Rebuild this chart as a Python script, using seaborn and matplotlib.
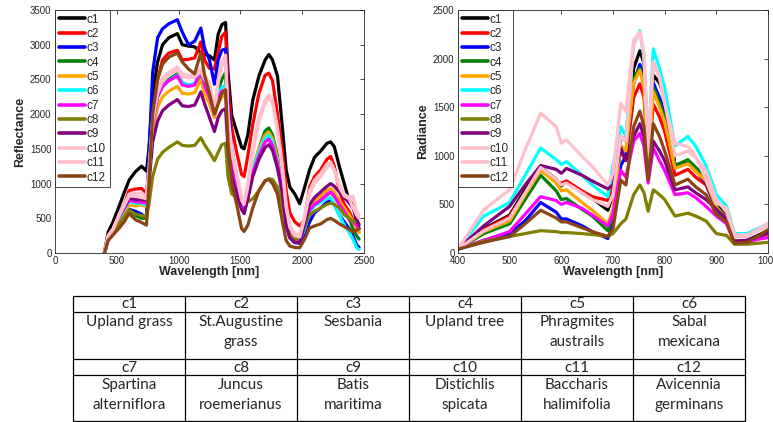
import numpy as np
import pandas as pd
import matplotlib
matplotlib.use('Agg')
import matplotlib.pyplot as plt
import seaborn as sns

classes = ['c1', 'c2', 'c3', 'c4', 'c5', 'c6', 'c7', 'c8', 'c9', 'c10', 'c11', 'c12']
colors = ['#000000', '#FF0000', '#0000FF', '#008000', '#FFA500', '#00FFFF',
          '#FF00FF', '#808000', '#800080', '#FFC0CB', '#FFC0CB', '#8B4513']

# left panel: reflectance
refl_wl = [400, 430, 470, 520, 560, 600, 650, 700, 740, 760, 790, 830, 870, 920, 990, 1030, 1080, 1130, 1180, 1210,
           1250, 1290, 1320, 1350, 1380, 1400, 1430, 1470, 1510, 1530, 1560, 1600, 1650, 1700, 1730, 1760, 1800, 1840,
           1870, 1900, 1940, 1980, 2020, 2060, 2100, 2150, 2200, 2230, 2260, 2300, 2340, 2380, 2410, 2440, 2460]
refl_c1 = [0, 300, 450, 680, 870, 1050, 1170, 1250, 1180, 1500, 2300, 2750, 3000, 3100, 3160, 3000, 2980, 2970, 2880, 2860,
           2840, 2780, 3150, 3290, 3320, 2600, 1980, 1750, 1520, 1500, 1700, 2200, 2550, 2780, 2860, 2780, 2550, 1800,
           1200, 950, 850, 710, 950, 1200, 1380, 1470, 1580, 1600, 1530, 1250, 1000, 750, 700, 450, 350]
refl_c2 = [0, 250, 350, 560, 700, 900, 920, 930, 860, 1200, 2000, 2500, 2780, 2880, 2920, 2780, 2790, 2810, 3040, 2780,
           2660, 2650, 2900, 3120, 3180, 2400, 1800, 1450, 1130, 1100, 1400, 1850, 2300, 2560, 2590, 2480, 2000, 1450,
           900, 580, 450, 390, 480, 950, 1100, 1200, 1350, 1390, 1250, 900, 700, 600, 480, 350, 300]
refl_c3 = [0, 200, 300, 430, 520, 630, 600, 560, 500, 1400, 2600, 3100, 3230, 3300, 3360, 3180, 3000, 3050, 3240, 2950,
           2780, 2430, 2780, 2920, 2940, 2200, 1500, 1100, 650, 570, 800, 1200, 1450, 1650, 1680, 1550, 1300, 900,
           400, 220, 150, 140, 250, 450, 580, 650, 730, 760, 700, 550, 450, 350, 250, 120, 80]
refl_c4 = [0, 200, 300, 420, 520, 620, 540, 500, 500, 1100, 1900, 2250, 2400, 2500, 2580, 2450, 2420, 2430, 2560, 2400,
           2250, 2000, 2350, 2500, 2600, 1800, 1300, 1000, 750, 680, 850, 1200, 1500, 1760, 1800, 1700, 1400, 1000,
           500, 280, 200, 190, 350, 600, 700, 760, 840, 870, 820, 700, 600, 500, 350, 250, 200]
refl_c5 = [0, 220, 320, 480, 580, 690, 680, 690, 670, 1050, 1750, 2100, 2250, 2330, 2400, 2300, 2290, 2310, 2500, 2300,
           2150, 1950, 2150, 2250, 2280, 1700, 1250, 980, 740, 700, 880, 1200, 1500, 1700, 1740, 1650, 1350, 950,
           450, 270, 200, 200, 420, 650, 750, 820, 900, 930, 880, 750, 650, 550, 450, 350, 300]
refl_c6 = [0, 230, 330, 500, 620, 740, 720, 710, 690, 1100, 1850, 2250, 2400, 2480, 2560, 2450, 2420, 2440, 2620, 2420,
           2280, 2020, 2280, 2380, 2420, 1750, 1300, 1000, 700, 640, 850, 1200, 1450, 1650, 1700, 1600, 1300, 900,
           450, 250, 170, 170, 350, 580, 680, 730, 780, 800, 700, 550, 400, 300, 200, 80, 50]
refl_c7 = [0, 230, 330, 520, 640, 760, 740, 730, 720, 1100, 1850, 2250, 2400, 2480, 2550, 2420, 2400, 2420, 2640, 2420,
           2250, 2000, 2250, 2330, 2350, 1700, 1250, 950, 650, 600, 800, 1150, 1400, 1600, 1640, 1550, 1280, 880,
           420, 230, 160, 160, 400, 620, 700, 760, 840, 880, 820, 700, 600, 480, 450, 400, 350]
refl_c8 = [0, 200, 300, 420, 520, 620, 560, 540, 520, 700, 1100, 1350, 1450, 1520, 1600, 1550, 1540, 1550, 1660, 1560,
           1450, 1330, 1450, 1560, 1580, 1100, 850, 800, 780, 760, 740, 780, 900, 1040, 1070, 1060, 950, 700,
           400, 250, 200, 200, 380, 550, 600, 650, 700, 720, 700, 650, 550, 500, 450, 450, 420]
refl_c9 = [0, 230, 340, 540, 660, 790, 770, 760, 760, 1000, 1600, 1900, 2050, 2130, 2210, 2120, 2110, 2130, 2320, 2150,
           1950, 1750, 1950, 2050, 2080, 1500, 1100, 850, 620, 580, 780, 1100, 1350, 1520, 1560, 1480, 1220, 850,
           400, 220, 150, 150, 420, 700, 800, 880, 960, 1000, 960, 880, 800, 720, 650, 500, 400]
refl_c10 = [0, 250, 350, 560, 700, 850, 860, 860, 820, 1200, 1950, 2350, 2520, 2600, 2680, 2580, 2560, 2570, 2660, 2560,
            2450, 2050, 2500, 2750, 2850, 2000, 1500, 1150, 800, 720, 1000, 1500, 1950, 2200, 2280, 2200, 1800, 1250,
            700, 400, 280, 250, 550, 900, 1050, 1150, 1280, 1310, 1200, 1000, 850, 800, 820, 600, 550]
refl_c11 = [0, 240, 340, 540, 680, 820, 820, 800, 780, 1150, 1900, 2300, 2480, 2560, 2640, 2540, 2520, 2530, 2620, 2500,
            2400, 2000, 2450, 2700, 2780, 1950, 1450, 1100, 760, 700, 950, 1450, 1900, 2150, 2240, 2150, 1750, 1200,
            650, 370, 250, 230, 500, 850, 1000, 1100, 1230, 1280, 1180, 950, 820, 780, 650, 550, 500]
refl_c12 = [0, 180, 260, 360, 450, 570, 480, 440, 400, 1000, 2000, 2500, 2720, 2820, 2880, 2750, 2650, 2580, 2890, 2560,
            2300, 2000, 2150, 2300, 2350, 1600, 1000, 700, 350, 310, 400, 650, 900, 1040, 1060, 1000, 850, 450,
            180, 100, 80, 75, 200, 360, 390, 420, 480, 500, 470, 420, 380, 340, 300, 330, 350]

# right panel: radiance
rad_wl = [400, 450, 500, 530, 560, 590, 600, 610, 640, 660, 690, 700, 715, 725, 740, 752, 760, 768, 778, 790, 800,
          820, 845, 860, 880, 900, 920, 935, 960, 980, 1000]
rad_c1 = [40, 250, 390, 650, 880, 760, 690, 740, 620, 560, 440, 600, 1200, 1150, 1900, 2080, 1950, 950, 1830, 1750, 1600,
          900, 950, 880, 780, 500, 380, 120, 130, 180, 230]
rad_c2 = [40, 240, 380, 620, 870, 730, 720, 740, 640, 580, 540, 700, 1050, 950, 1600, 1740, 1600, 900, 1530, 1400, 1250,
          800, 860, 780, 700, 450, 350, 110, 120, 150, 180]
rad_c3 = [40, 130, 200, 330, 520, 420, 350, 350, 280, 220, 150, 300, 900, 1000, 1750, 1940, 1800, 900, 1750, 1600, 1450,
          900, 930, 850, 720, 450, 340, 120, 120, 150, 180]
rad_c4 = [40, 200, 300, 550, 800, 640, 550, 560, 450, 380, 230, 400, 1100, 1050, 1800, 1900, 1750, 950, 1700, 1550, 1400,
          900, 960, 880, 780, 480, 360, 120, 120, 160, 190]
rad_c5 = [40, 220, 330, 600, 850, 720, 640, 650, 520, 440, 300, 450, 1100, 1050, 1750, 1880, 1700, 900, 1660, 1500, 1350,
          870, 920, 840, 740, 470, 350, 120, 120, 160, 190]
rad_c6 = [40, 380, 520, 800, 1080, 960, 910, 940, 800, 700, 580, 900, 1300, 1200, 2150, 2290, 2000, 1050, 2100, 1900, 1700,
          1100, 1200, 1100, 900, 600, 480, 200, 200, 250, 300]
rad_c7 = [40, 130, 220, 400, 580, 540, 500, 520, 460, 390, 280, 400, 850, 780, 1150, 1230, 1100, 720, 1080, 950, 850,
          600, 620, 570, 480, 380, 300, 100, 110, 140, 160]
rad_c8 = [40, 120, 170, 200, 230, 220, 210, 210, 200, 190, 170, 200, 300, 350, 600, 700, 620, 430, 650, 600, 550,
          380, 410, 380, 330, 200, 180, 90, 90, 100, 110]
rad_c9 = [40, 280, 480, 700, 900, 860, 820, 870, 800, 740, 660, 700, 1080, 950, 1200, 1330, 1200, 780, 1150, 1050, 950,
          650, 680, 620, 550, 450, 350, 120, 130, 170, 200]
rad_c10 = [40, 445, 650, 1062, 1438, 1300, 1130, 1164, 993, 890, 702, 822, 1541, 1456, 2192, 2277, 2055, 1096, 1970, 1815,
           1541, 1130, 1096, 993, 754, 514, 462, 188, 188, 240, 308]
rad_c11 = [40, 230, 360, 620, 880, 760, 700, 720, 620, 550, 480, 600, 1200, 1150, 2150, 2270, 2050, 1000, 1960, 1800, 1550,
           1000, 1050, 980, 850, 550, 420, 160, 170, 230, 280]
rad_c12 = [40, 110, 170, 300, 440, 360, 320, 320, 260, 220, 170, 250, 750, 700, 1300, 1460, 1300, 750, 1330, 1200, 1050,
           700, 760, 680, 600, 400, 320, 100, 110, 170, 240]

# table
table_top_ids = ['c1', 'c2', 'c3', 'c4', 'c5', 'c6']
table_top_names = [['Upland grass'], ['St.Augustine', 'grass'], ['Sesbania'], ['Upland tree'],
                   ['Phragmites', 'austrails'], ['Sabal', 'mexicana']]
table_bot_ids = ['c7', 'c8', 'c9', 'c10', 'c11', 'c12']
table_bot_names = [['Spartina', 'alterniflora'], ['Juncus', 'roemerianus'], ['Batis', 'maritima'],
                   ['Distichlis', 'spicata'], ['Baccharis', 'halimifolia'], ['Avicennia', 'germinans']]

refl_series = [refl_c1, refl_c2, refl_c3, refl_c4, refl_c5, refl_c6, refl_c7, refl_c8, refl_c9, refl_c10, refl_c11, refl_c12]
rad_series = [rad_c1, rad_c2, rad_c3, rad_c4, rad_c5, rad_c6, rad_c7, rad_c8, rad_c9, rad_c10, rad_c11, rad_c12]


def long_df(wl, series):
    rows = []
    for name, vals in zip(classes, series):
        for w, v in zip(wl, vals):
            rows.append({'wl': w, 'val': v, 'cls': name})
    return pd.DataFrame(rows)


df_refl = long_df(refl_wl, refl_series)
df_rad = long_df(rad_wl, rad_series)

sns.set_style('white')
plt.rcParams['font.family'] = ['Liberation Sans', 'DejaVu Sans']
pal = dict(zip(classes, colors))

fig = plt.figure(figsize=(7.73, 4.22), dpi=100)
ax1 = fig.add_axes([55 / 773, 1 - 253 / 422, 309 / 773, 243 / 422])
ax2 = fig.add_axes([458 / 773, 1 - 253 / 422, 310 / 773, 243 / 422])

panels = [(ax1, df_refl, 'Reflectance', (0, 2500), np.arange(0, 2501, 500), (0, 3500), np.arange(0, 3501, 500)),
          (ax2, df_rad, 'Radiance', (400, 1000), np.arange(400, 1001, 100), (0, 2500), np.arange(0, 2501, 500))]

for ax, d, ylab, xl, xt, yl, yt in panels:
    sns.lineplot(data=d, x='wl', y='val', hue='cls', hue_order=classes, palette=pal,
                 linewidth=2.3, estimator=None, sort=False, ax=ax)
    ax.set_xlim(*xl)
    ax.set_ylim(*yl)
    ax.set_xticks(xt)
    ax.set_yticks(yt)
    ax.set_xlabel('Wavelength [nm]', fontsize=9, fontweight='bold', labelpad=0)
    ax.set_ylabel(ylab, fontsize=9, fontweight='bold', labelpad=3)
    ax.tick_params(direction='in', length=3, width=0.6, labelsize=7, colors='#262626',
                   top=True, right=True, pad=2.5)
    for s in ax.spines.values():
        s.set_linewidth(0.6)
        s.set_color('#262626')
    h, l = ax.get_legend_handles_labels()
    for hh in h:
        hh.set_linewidth(2.6)
    ax.legend(h, l, loc='upper left', borderaxespad=0, fancybox=False, edgecolor='#262626',
              framealpha=1, fontsize=8.5, handlelength=2.2, handletextpad=0.2, labelspacing=0.2,
              borderpad=0.3)
    ax.get_legend().get_frame().set_linewidth(0.6)

# table drawn in pixel coordinates
tax = fig.add_axes([0, 0, 1, 1])
tax.set_xlim(0, 773)
tax.set_ylim(422, 0)
tax.axis('off')
col_edges = [73, 185, 297, 409, 521, 633, 745]
row_edges = [296, 312, 359, 375, 421]
for y in row_edges:
    tax.plot([col_edges[0], col_edges[-1]], [y, y], color='black', lw=0.9)
for x in col_edges:
    tax.plot([x, x], [row_edges[0], row_edges[-1]], color='black', lw=0.9)

tfont = ['Lato', 'DejaVu Sans']
for block, (ids, names) in enumerate([(table_top_ids, table_top_names), (table_bot_ids, table_bot_names)]):
    r0 = row_edges[block * 2]
    r1 = row_edges[block * 2 + 1]
    for i in range(6):
        cx = (col_edges[i] + col_edges[i + 1]) / 2
        tax.text(cx, (r0 + r1) / 2 + 0.5, ids[i], ha='center', va='center', fontsize=11, family=tfont)
        for j, line in enumerate(names[i]):
            tax.text(cx, r1 + 10 + j * 20, line, ha='center', va='center', fontsize=11, family=tfont)

fig.savefig('out.png', dpi=100)
